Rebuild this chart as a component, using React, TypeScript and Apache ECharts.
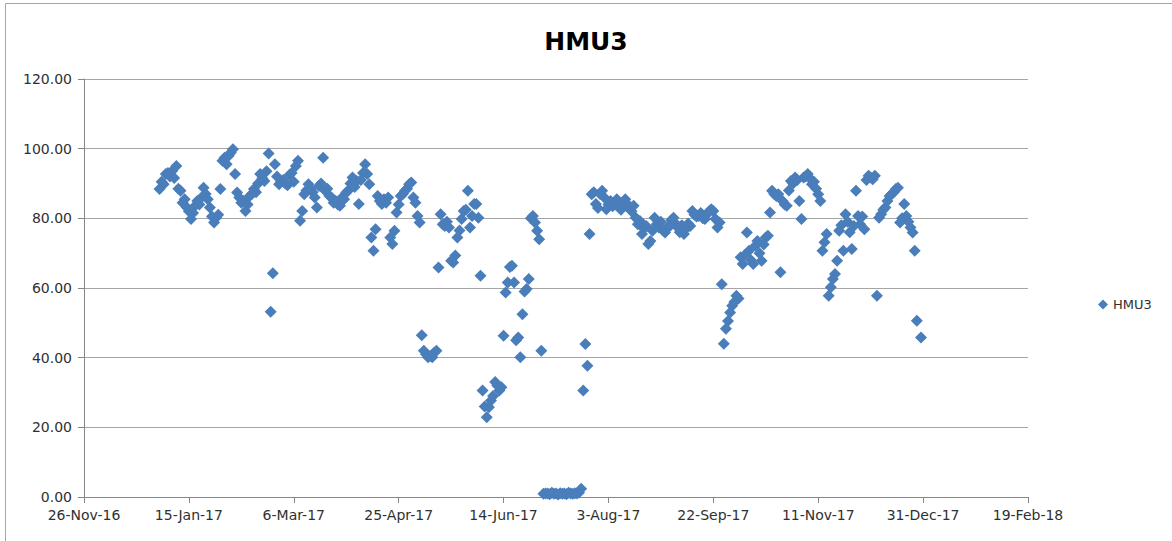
import React, { useEffect, useRef } from "react";
import * as echarts from "echarts";

const seriesName = "HMU3";
const xTickLabels = ["26-Nov-16", "15-Jan-17", "6-Mar-17", "25-Apr-17", "14-Jun-17", "3-Aug-17", "22-Sep-17", "11-Nov-17", "31-Dec-17", "19-Feb-18"];
const yTickValues = [0, 20, 40, 60, 80, 100, 120];

// daily values for 2017, one array per month (null = no reading)
const jan = [88.4, 90.5, 89.8, 92.7, 93.0, 92.0, 93.6, 91.6, 95.0, 88.5, 87.9, 84.5, 85.5, 83.1, 82.0, 79.8, 81.5, 83.6, 85.0, 84.0, 86.0, 88.8, 87.0, 85.5, 83.1, 80.5, 78.8, 80.2, 81.0, 88.4, 96.5];
const feb = [97.4, 95.5, 98.0, 98.9, 99.8, 92.7, 87.4, 86.0, 84.5, 85.0, 82.1, 84.0, 86.4, 87.0, 88.4, 87.5, 90.0, 92.7, 91.5, 90.7, 93.5, 98.6, 53.2, 64.2, 95.5, 92.0, 89.8, 90.5];
const mar = [91.0, 90.0, 89.5, 92.5, 93.0, 90.5, 95.0, 96.5, 79.3, 82.1, 86.9, 88.0, 89.8, 88.4, 87.5, 86.0, 83.1, 89.3, 90.0, 97.4, 87.9, 88.5, 86.4, 86.0, 84.5, 85.0, 84.0, 83.6, 86.0, 85.5, 87.4];
const apr = [88.0, 90.0, 91.7, 89.0, 90.7, 84.1, 91.0, 93.0, 95.5, 92.7, 89.8, 74.5, 70.7, 76.9, 86.4, 85.0, 84.1, 85.5, 84.5, 86.0, 74.5, 72.6, 76.4, 81.7, 84.0, 86.4, 87.0, 87.9, 88.5, 89.8];
const may = [90.3, 86.0, 84.5, 80.7, 78.8, 46.4, 42.0, 41.0, 40.1, 40.5, 40.1, 41.5, 42.0, 65.9, 81.2, 78.3, 77.8, 79.0, 77.4, 67.8, 67.3, 69.3, 74.5, 76.5, 79.8, 82.1, 82.5, 87.9, 77.4, 80.7, 84.1];
const jun = [84.1, 80.2, 63.5, 30.6, 26.0, 22.9, 25.8, 27.7, 29.0, 33.0, 32.0, 30.6, 31.5, 46.3, 58.7, 61.6, 66.0, 66.4, 61.6, 45.0, 45.8, 40.1, 52.5, 59.0, 59.7, 62.6, 80.0, 80.7, 78.8, 76.4];
const jul = [74.0, 42.0, 0.9, 1.0, 1.0, 0.8, 1.2, 0.9, 1.0, 0.7, 1.1, 0.9, 1.0, 0.8, 1.2, 1.0, 0.9, 1.1, 1.0, 1.3, 2.4, 30.6, 43.9, 37.7, 75.5, 86.9, 87.5, 84.1, 83.0, 87.0, 87.9];
const aug = [86.0, 82.6, 84.0, 85.0, 83.5, 84.5, 85.5, 83.1, 82.5, 84.5, 85.5, 84.1, 83.0, 82.0, 83.6, 80.2, 78.3, 79.2, 75.5, 77.0, 77.8, 72.6, 73.5, 76.4, 80.2, 78.3, 77.4, 79.0, 76.5, 75.9, 77.0];
const sep = [78.0, 79.5, 80.2, 78.5, 77.4, 76.0, 78.0, 75.5, 77.0, 78.5, 77.8, 82.1, 81.0, 80.5, 80.7, 81.5, 80.0, 79.8, 81.2, 82.0, 82.6, 82.1, 79.8, 77.4, 78.8, 61.1, 44.0, 48.3, 50.5, 53.0];
const oct = [54.9, 56.0, 57.8, 57.0, 68.8, 66.9, 69.5, 75.9, 70.7, 68.0, 66.9, 72.1, 73.5, 70.0, 67.8, 72.5, 74.5, 75.0, 81.7, 87.9, 87.0, 86.4, 86.9, 64.5, 85.0, 84.0, 83.6, 88.0, 90.7, 90.0, 91.7];
const nov = [91.0, 85.0, 79.8, 91.7, 92.0, 92.7, 91.5, 89.8, 90.5, 88.5, 86.9, 85.0, 70.7, 73.1, 75.5, 57.8, 60.2, 62.6, 64.0, 67.8, 76.4, 78.0, 70.7, 81.2, 79.0, 76.0, 71.2, 77.8, 87.9, 80.7];
const dec = [78.3, 80.5, 76.9, 91.0, 92.2, 91.7, 91.2, 92.2, 57.8, 80.2, 81.2, 82.5, 83.1, 85.0, 86.4, 86.9, 87.5, 88.4, 88.8, 78.8, 80.0, 84.1, 80.7, 79.0, 77.4, 75.9, 70.7, 50.6, null, 45.8, null];

const months2017 = [jan, feb, mar, apr, may, jun, jul, aug, sep, oct, nov, dec];
const ORIGIN = Date.UTC(2016, 10, 26);
const DAY = 86400000;

function buildData() {
  const out: [number, number][] = [];
  months2017.forEach((arr, m) => {
    arr.forEach((v, i) => {
      if (v === null || v === undefined) return;
      const d = (Date.UTC(2017, m, i + 1) - ORIGIN) / DAY;
      out.push([d, v as number]);
    });
  });
  return out;
}

const FONT = "DejaVu Sans";

export default function App() {
  const ref = useRef<HTMLDivElement>(null);
  useEffect(() => {
    document.body.style.margin = "0";
    if (!ref.current) return;
    const chart = echarts.init(ref.current, undefined, { renderer: "svg" });
    chart.setOption({
      animation: false,
      backgroundColor: "#ffffff",
      title: {
        text: "HMU3",
        left: "center",
        top: 24,
        textStyle: { fontFamily: FONT, fontSize: 25, fontWeight: "bold", color: "#000000" },
      },
      legend: {
        data: [seriesName],
        left: 1093,
        top: 293,
        icon: "diamond",
        itemWidth: 10,
        itemHeight: 10,
        textStyle: { fontFamily: FONT, fontSize: 13, color: "#303030" },
      },
      grid: { left: 84, right: 144, top: 79, bottom: 44, containLabel: false },
      xAxis: {
        type: "value",
        min: 0,
        max: 450,
        interval: 50,
        axisLine: { show: true, onZero: false, lineStyle: { color: "#868686", width: 1 } },
        axisTick: { show: true, length: 6, lineStyle: { color: "#868686" } },
        splitLine: { show: false },
        axisLabel: {
          fontFamily: FONT,
          fontSize: 14,
          color: "#303030",
          margin: 11,
          showMinLabel: true,
          showMaxLabel: true,
          hideOverlap: false,
          formatter: (v: number) => xTickLabels[Math.round(v / 50)] ?? "",
        },
      },
      yAxis: {
        type: "value",
        min: yTickValues[0],
        max: yTickValues[yTickValues.length - 1],
        interval: 20,
        axisLine: { show: true, lineStyle: { color: "#868686", width: 1 } },
        axisTick: { show: true, length: 6, lineStyle: { color: "#868686" } },
        splitLine: { show: true, lineStyle: { color: "#a6a6a6", width: 1 } },
        axisLabel: {
          fontFamily: FONT,
          fontSize: 14,
          color: "#303030",
          margin: 12,
          formatter: (v: number) => v.toFixed(2),
        },
      },
      graphic: [
        {
          type: "rect",
          shape: { x: 5.5, y: 3.5, width: 1400, height: 800 },
          style: { fill: "none", stroke: "#a6a6a6", lineWidth: 1 },
          silent: true,
        },
      ],
      series: [
        {
          name: seriesName,
          type: "scatter",
          symbol: "diamond",
          symbolSize: 12,
          itemStyle: { color: "#4A7EBB", opacity: 1 },
          data: buildData(),
        },
      ],
    });
    return () => chart.dispose();
  }, []);
  return <div ref={ref} style={{ width: 1172, height: 541 }} />;
}
